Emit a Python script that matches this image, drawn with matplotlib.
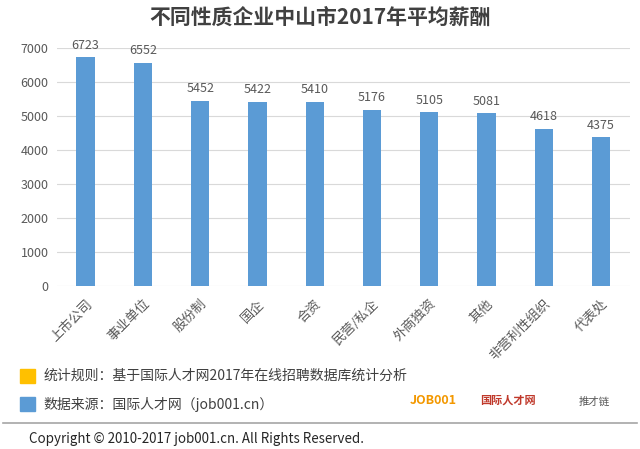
import matplotlib
matplotlib.use("Agg")
import matplotlib.pyplot as plt
from matplotlib.patches import Rectangle
from matplotlib.lines import Line2D

plt.rcParams['font.family'] = ['Noto Sans CJK SC', 'DejaVu Sans']

categories = ["上市公司", "事业单位", "股份制", "国企", "合资", "民营/私企", "外商独资", "其他", "非营利性组织", "代表处"]
values = [6723, 6552, 5452, 5422, 5410, 5176, 5105, 5081, 4618, 4375]
yticks = [0, 1000, 2000, 3000, 4000, 5000, 6000, 7000]

bar_color = "#5B9BD5"
text_gray = "#595959"

fig = plt.figure(figsize=(6.4, 4.49), dpi=100)
ax = fig.add_axes([0.089, 0.363, 0.895, 0.530])

x = list(range(len(categories)))
ax.bar(x, values, width=0.32, color=bar_color, zorder=3)
for xi, v in zip(x, values):
    ax.text(xi, v + 170, str(v), ha="center", va="bottom", fontsize=9, color=text_gray)

ax.set_xlim(-0.5, len(categories) - 0.5)
ax.set_ylim(0, 7000)
ax.set_yticks(yticks)
ax.set_yticklabels([str(t) for t in yticks], fontsize=9, color=text_gray)
ax.set_xticks(x)
ax.set_xticklabels(categories, rotation=45, ha="right", va="top", rotation_mode="anchor",
                   fontsize=9.5, color=text_gray)
ax.tick_params(axis="x", length=0, pad=8)
ax.tick_params(axis="y", length=0, pad=6)
ax.grid(axis="y", color="#D9D9D9", linewidth=0.8, zorder=0)
for s in ax.spines.values():
    s.set_visible(False)

fig.text(0.5, 0.962, "不同性质企业中山市2017年平均薪酬", ha="center", va="center",
         fontsize=15, fontweight="bold", color="#404040")

# legend notes
fig.patches.append(Rectangle((0.031, 1 - 383 / 449), 0.024, 14 / 449, transform=fig.transFigure,
                             color="#FFC000"))
fig.text(0.068, 1 - 376 / 449, "统计规则：基于国际人才网2017年在线招聘数据库统计分析", ha="left", va="center",
         fontsize=10, color="#404040")
fig.patches.append(Rectangle((0.031, 1 - 411 / 449), 0.024, 14 / 449, transform=fig.transFigure,
                             color=bar_color))
fig.text(0.068, 1 - 404 / 449, "数据来源：国际人才网（job001.cn）", ha="left", va="center",
         fontsize=10, color="#404040")

# logos approximated as text
fig.text(0.64, 1 - 400 / 449, "JOB001", ha="left", va="center", fontsize=9, color="#F39800", fontweight="bold")
fig.text(0.75, 1 - 400 / 449, "国际人才网", ha="left", va="center", fontsize=8, color="#C0392B", fontweight="bold")
fig.text(0.905, 1 - 402 / 449, "推才链", ha="left", va="center", fontsize=7.5, color="#555555")

fig.add_artist(Line2D([0.005, 0.995], [1 - 423 / 449, 1 - 423 / 449], transform=fig.transFigure,
                      color="#A6A6A6", linewidth=1.2))
fig.text(0.045, 1 - 439 / 449, "Copyright © 2010-2017 job001.cn. All Rights Reserved.", ha="left", va="center",
         fontsize=9.6, color="#262626")

fig.savefig("out.png", dpi=100, facecolor="white")
